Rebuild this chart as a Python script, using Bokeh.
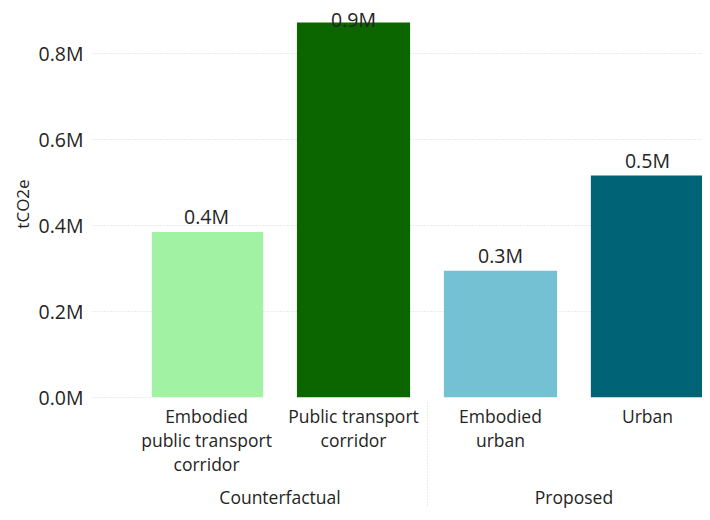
from bokeh.plotting import figure
from bokeh.models import FactorRange, ColumnDataSource, FixedTicker, Range1d, CustomJSTickFormatter
from bokeh.embed import file_html
from bokeh.resources import INLINE
from bokeh.core.properties import value

# ---- data ----
GROUPS = ["Counterfactual", "Counterfactual", "Proposed", "Proposed"]
CATEGORIES = ["Embodied\npublic transport\ncorridor", "Public transport\ncorridor", "Embodied\nurban", "Urban"]
VALUES = [385000, 872000, 295000, 516000]
COLORS = ["#A2F2A4", "#0C6600", "#74C1D4", "#006376"]
Y_TICKS = [0, 200000, 400000, 600000, 800000]
Y_TICK_LABELS = ["0.0M", "0.2M", "0.4M", "0.6M", "0.8M"]
Y_MAX = 900000
Y_TITLE = "tCO2e"

FONT = "Open Sans"
TXT = "#252423"
GRID = "#d6d6d6"

factors = list(zip(GROUPS, CATEGORIES))
labels = [f"{v / 1e6:.1f}M" for v in VALUES]

x_range = FactorRange(*factors, group_padding=0, factor_padding=0,
                      range_padding=-0.1254, range_padding_units="absolute")

p = figure(x_range=x_range, y_range=Range1d(0, Y_MAX), width=702, height=512,
           output_backend="svg", toolbar_location=None,
           min_border_left=151, min_border_right=0, min_border_top=10, min_border_bottom=115)
p.outline_line_color = None
p.background_fill_color = "white"
p.border_fill_color = "white"

src = ColumnDataSource(dict(x=factors, top=VALUES, color=COLORS, label=labels))
p.vbar(x="x", top="top", width=0.77, fill_color="color", line_color=None, source=src)

# data labels: above the bar when there is room, otherwise inside at the top
fit = [v + 0.065 * Y_MAX / 0.9 <= Y_MAX for v in VALUES]
out_src = ColumnDataSource(dict(x=[f for f, k in zip(factors, fit) if k],
                                y=[v for v, k in zip(VALUES, fit) if k],
                                t=[l for l, k in zip(labels, fit) if k]))
in_src = ColumnDataSource(dict(x=[f for f, k in zip(factors, fit) if not k],
                               y=[Y_MAX for k in fit if not k],
                               t=[l for l, k in zip(labels, fit) if not k]))
p.text(x="x", y="y", text="t", source=out_src, text_align="center", text_baseline="alphabetic",
       y_offset=-15, text_font=value(FONT), text_font_size="19.5px", text_color=TXT)
p.text(x="x", y="y", text="t", source=in_src, text_align="center", text_baseline="top",
       y_offset=-5, text_font=value(FONT), text_font_size="19.5px", text_color=TXT)

# grid
p.xgrid.grid_line_color = None
p.ygrid.grid_line_color = GRID
p.ygrid.grid_line_dash = "1 2"

# y axis
ya = p.yaxis[0]
ya.ticker = FixedTicker(ticks=Y_TICKS)
ya.formatter = CustomJSTickFormatter(args=dict(yt=Y_TICKS, yl=Y_TICK_LABELS), code="""
    for (let i = 0; i < yt.length; i++) { if (Math.abs(yt[i] - tick) < 1e-6) return yl[i]; }
    return '';
""")
ya.axis_line_color = None
ya.major_tick_out = 59
ya.major_tick_in = 0
ya.major_tick_line_color = GRID
ya.major_tick_line_dash = "1 2"
ya.minor_tick_line_color = None
ya.major_label_standoff = 9
ya.major_label_text_font = FONT
ya.major_label_text_font_size = "19.5px"
ya.major_label_text_color = TXT
ya.axis_label = Y_TITLE
ya.axis_label_text_font = FONT
ya.axis_label_text_font_size = "17px"
ya.axis_label_text_font_style = "normal"
ya.axis_label_text_color = TXT
ya.axis_label_standoff = 2

# x axis
xa = p.xaxis[0]
xa.axis_line_color = None
xa.major_tick_line_color = None
xa.major_tick_out = 0
xa.major_tick_in = 0
xa.major_label_standoff = 6
xa.major_label_text_font = FONT
xa.major_label_text_font_size = "17.5px"
xa.major_label_text_color = TXT
xa.major_label_text_line_height = 1.01
xa.group_text_font = FONT
xa.group_text_font_size = "17.5px"
xa.group_text_font_style = "normal"
xa.group_text_color = TXT
xa.separator_line_color = GRID
xa.separator_line_width = 1
xa.separator_line_dash = "1 2"

open("out.html", "w").write(file_html(p, INLINE))
